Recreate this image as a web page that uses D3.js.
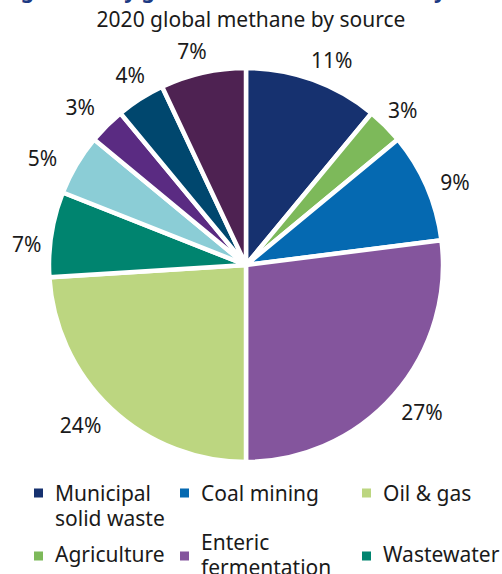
<!DOCTYPE html>
<html>
<head>
<meta charset="utf-8">
<script src="https://cdn.jsdelivr.net/npm/d3@7"></script>
<style>
  html, body { margin: 0; padding: 0; background: #ffffff; }
  svg { display: block; font-family: "Noto Sans", "Open Sans", sans-serif; }
</style>
</head>
<body>
<svg id="chart" width="502" height="574"></svg>
<script>
// Global methane emissions in 2020, share by source (%), clockwise from 12 o'clock
const sources = [
  "Municipal solid waste", "Agriculture", "Coal mining", "Enteric fermentation",
  "Oil & gas", "Wastewater", "Rice cultivation", "Manure management",
  "Biomass burning", "Other sources"
];
const shares = [11, 3, 9, 27, 24, 7, 5, 3, 4, 7];
const colors = [
  "#16316f", "#7db95a", "#0569b1", "#84559d", "#bcd680",
  "#00846f", "#8bcdd6", "#5a2b82", "#00476e", "#4e2252"
];
// Legend entries shown under the pie
const legendItems = [
  "Municipal solid waste", "Coal mining", "Oil & gas",
  "Agriculture", "Enteric fermentation", "Wastewater"
];

const svg = d3.select("#chart");
const W = 502;

// Figure heading (runs above the top edge)
svg.append("text")
  .attr("x", 3).attr("y", -2)
  .attr("font-size", 21).attr("font-weight", 700)
  .attr("fill", "#1d3a83")
  .text("Figure 1. Key global methane emissions by source, 2020");

svg.append("text")
  .attr("x", W / 2).attr("y", 27)
  .attr("text-anchor", "middle")
  .attr("font-size", 21).attr("fill", "#1a1a1a")
  .text("2020 global methane by source");

// Pie
const cx = 246, cy = 265, R = 197;
const data = sources.map((s, i) => ({ source: s, value: shares[i], color: colors[i] }));
const pie = d3.pie().value(d => d.value).sort(null);
const arcs = pie(data);
const arc = d3.arc().innerRadius(0).outerRadius(R);

const g = svg.append("g").attr("transform", `translate(${cx},${cy})`);
g.selectAll("path.slice")
  .data(arcs)
  .join("path")
  .attr("class", "slice")
  .attr("d", arc)
  .attr("fill", d => d.data.color)
  .attr("stroke", "#ffffff")
  .attr("stroke-width", 4.5)
  .attr("stroke-linejoin", "miter");

// Percentage labels placed just outside each slice, with small hand nudges
// so neighbouring labels sit clear of each other
const labelGap = 207, labelH = 20;
const labelShift = [
  [10, 6], [-2, 4], [3, 7], [4, -4], [-9, -6],
  [1, 14], [-10, 8], [-7, 1], [4, -1.5], [-6, 1]
];
g.selectAll("text.pct")
  .data(arcs)
  .join("text")
  .attr("class", "pct")
  .attr("font-size", 21)
  .attr("fill", "#1a1a1a")
  .attr("text-anchor", "middle")
  .text(d => d3.format(".0f")(d.data.value) + "%")
  .each(function (d, i) {
    const a = (d.startAngle + d.endAngle) / 2;
    const dx = Math.sin(a), dy = -Math.cos(a);
    const w = this.getComputedTextLength();
    const r = labelGap + (w / 2) * Math.abs(dx) + (labelH / 2) * Math.abs(dy);
    d3.select(this)
      .attr("x", r * dx + labelShift[i][0])
      .attr("y", r * dy + labelShift[i][1])
      .attr("dy", "0.36em");
  });

// Legend
const colX = [34, 180, 362];
const sw = 9;
const lineH = 25;
const maxTextW = 130;
const colorOf = new Map(data.map(d => [d.source, d.color]));

function wrap(text) {
  const probe = svg.append("text").attr("font-size", 21);
  const words = text.split(" ");
  const lines = [];
  let cur = "";
  words.forEach(wd => {
    const test = cur ? cur + " " + wd : wd;
    probe.text(test);
    if (cur && probe.node().getComputedTextLength() > maxTextW) {
      lines.push(cur);
      cur = wd;
    } else {
      cur = test;
    }
  });
  lines.push(cur);
  probe.remove();
  return lines;
}

const legend = svg.append("g");
legendItems.forEach((name, i) => {
  const col = i % 3, row = Math.floor(i / 3);
  const lines = wrap(name);
  let squareY, firstBase;
  if (row === 0) {
    firstBase = 501;
    squareY = firstBase - 8;
  } else {
    squareY = 556;
    firstBase = squareY + 6 - (lines.length - 1) * lineH / 2;
  }
  const item = legend.append("g");
  item.append("rect")
    .attr("x", colX[col]).attr("y", squareY - sw / 2)
    .attr("width", sw).attr("height", sw)
    .attr("fill", colorOf.get(name));
  const t = item.append("text")
    .attr("font-size", 21).attr("fill", "#1a1a1a");
  lines.forEach((ln, k) => {
    t.append("tspan")
      .attr("x", colX[col] + 21)
      .attr("y", firstBase + k * lineH)
      .text(ln);
  });
});
</script>
</body>
</html>
